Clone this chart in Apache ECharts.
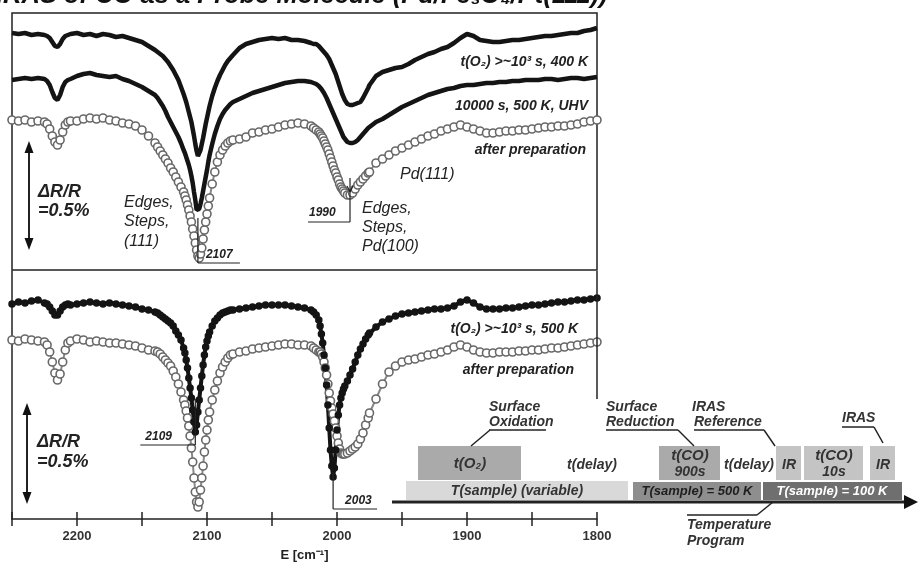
<!DOCTYPE html>
<html>
<head>
<meta charset="utf-8">
<script src="https://cdn.jsdelivr.net/npm/echarts@6/dist/echarts.min.js"></script>
<style>
  html, body { margin: 0; padding: 0; background: #fff; }
  #main { width: 920px; height: 564px; }
</style>
</head>
<body>
<div id="main"></div>
<script>
// wavenumber grid (cm-1), finer around the narrow bands
var wavenumber = [
  2250, 2245, 2240, 2235, 2230, 2225,
  2223, 2221, 2219, 2217, 2215, 2213, 2211, 2209, 2207,
  2205, 2200, 2195, 2190, 2185, 2180, 2175, 2170, 2165, 2160, 2155, 2150, 2145,
  2140, 2138, 2136, 2134, 2132, 2130, 2128, 2126, 2124, 2122, 2120, 2118,
  2117, 2116, 2115, 2114, 2113, 2112, 2111, 2110, 2109, 2108, 2107, 2106, 2105, 2104, 2103, 2102, 2101, 2100, 2099,
  2098, 2096, 2094, 2092, 2090, 2088, 2086, 2084, 2082, 2080,
  2075, 2070, 2065, 2060, 2055, 2050, 2045, 2040, 2035, 2030, 2025,
  2020, 2018, 2016, 2014,
  2013, 2012, 2011, 2010, 2009, 2008, 2007, 2006, 2005, 2004, 2003, 2002, 2001, 2000, 1999, 1998, 1997, 1996, 1995,
  1994, 1992, 1990, 1988, 1986, 1984, 1982, 1980, 1978, 1976,
  1975, 1970, 1965, 1960, 1955, 1950, 1945, 1940, 1935, 1930, 1925, 1920, 1915, 1910, 1905, 1900, 1895, 1890,
  1885, 1880, 1875, 1870, 1865, 1860, 1855, 1850, 1845, 1840, 1835, 1830, 1825, 1820, 1815, 1810, 1805, 1800
];

// upper panel (offset signal, a.u.)
var topO2at400K = [
  237, 236, 237, 235, 236, 235,
  234, 232, 228, 224, 223, 226, 231, 234, 235,
  236, 237, 235, 236, 234, 236, 235, 233, 234, 232, 230, 228, 224,
  220, 218, 216, 214, 211, 208, 204, 200, 195, 190, 183, 176,
  172, 168, 163, 158, 153, 148, 141, 134, 126, 119, 114, 115, 120, 126, 132, 139, 146, 152, 158,
  164, 174, 182, 189, 195, 200, 205, 209, 212, 215,
  222, 226, 228, 230, 231, 232, 231, 232, 230, 230, 229,
  227, 226, 226, 224,
  223, 221, 220, 218, 217, 215, 213, 211, 208, 205, 202, 199, 196, 192, 188, 184, 180, 176, 173,
  170, 166, 165, 165, 166, 167, 168, 172, 177, 182,
  185, 194, 198, 200, 202, 203, 206, 210, 213, 216, 218, 221, 223, 227, 232, 236, 234, 230,
  229, 228, 228, 229, 230, 230, 231, 232, 233, 234, 234, 235, 236, 237, 237, 239, 240, 242
];
var topUHV500K = [
  190, 191, 192, 191, 192, 191,
  189, 185, 178, 172, 170, 175, 183, 188, 190,
  191, 194, 196, 197, 195, 194, 193, 194, 191, 189, 186, 183, 179,
  175, 172, 168, 164, 159, 153, 148, 143, 138, 133, 127, 120,
  117, 113, 109, 105, 100, 94, 87, 78, 70, 60, 58, 61, 66, 72, 79, 86, 93, 100, 108,
  115, 126, 136, 144, 151, 156, 160, 163, 166, 168,
  171, 174, 177, 179, 181, 183, 185, 187, 188, 189, 189,
  188, 187, 186, 184,
  183, 181, 179, 177, 175, 172, 169, 166, 163, 160, 157, 154, 151, 148, 145, 142, 139, 136, 133,
  131, 128, 127, 127, 128, 130, 133, 136, 139, 142,
  143, 148, 151, 155, 159, 163, 166, 169, 172, 175, 177, 179, 181, 182, 184, 185, 185, 186,
  187, 187, 188, 188, 189, 189, 190, 190, 190, 191, 191, 190, 191, 192, 192, 191, 192, 193
];
var topAfterPrep = [
  150, 149, 150, 148, 149, 148,
  146, 141, 134, 128, 125, 130, 138, 145, 148,
  149, 149, 151, 152, 151, 152, 150, 149, 147, 146, 144, 140, 134,
  127, 123, 119, 115, 111, 107, 102, 98, 93, 88, 83, 78,
  74, 70, 65, 60, 54, 48, 41, 34, 27, 20, 14, 12, 16, 22, 31, 40, 48, 56, 64,
  72, 86, 98, 108, 115, 120, 124, 127, 129, 130,
  131, 133, 137, 138, 140, 141, 143, 145, 146, 147, 146,
  144, 142, 140, 138,
  136, 134, 132, 129, 126, 123, 120, 116, 112, 108, 104, 100, 97, 93, 90, 86, 83, 81, 79,
  77, 75, 75, 77, 81, 85, 88, 91, 94, 97,
  98, 107, 111, 115, 119, 122, 125, 128, 131, 134, 136, 139, 141, 143, 145, 143, 141, 139,
  137, 137, 138, 139, 139, 140, 140, 141, 142, 143, 143, 144, 144, 145, 146, 148, 149, 150
];

// lower panel (offset signal, a.u.)
var botO2at500K = [
  215, 217, 216, 218, 219, 216,
  215, 212, 208, 204, 204, 208, 212, 214, 215,
  214, 215, 216, 217, 216, 215, 216, 215, 214, 213, 212, 210, 209,
  207, 206, 204, 202, 200, 198, 196, 193, 188, 184, 179, 171,
  166, 159, 151, 141, 131, 121, 109, 97, 87, 94, 107, 119, 131, 143, 154, 164, 172, 178, 183,
  187, 193, 198, 201, 204, 206, 207, 208, 209, 209,
  210, 211, 212, 213, 214, 214, 214, 214, 213, 212, 211,
  209, 207, 204, 199,
  193, 185, 176, 164, 151, 134, 114, 91, 69, 53, 42, 51, 69, 89, 104, 114, 121, 126, 130,
  133, 138, 144, 150, 157, 164, 170, 175, 180, 184,
  186, 192, 197, 200, 203, 205, 206, 207, 208, 209, 210, 210, 211, 213, 217, 219, 216, 212,
  210, 210, 210, 211, 211, 212, 213, 214, 214, 215, 216, 217, 217, 218, 219, 219, 220, 221
];
var botAfterPrep = [
  179, 178, 180, 179, 178, 177,
  174, 167, 157, 146, 139, 145, 157, 169, 176,
  178, 180, 179, 177, 178, 177, 176, 176, 175, 174, 173, 171, 169,
  168, 167, 165, 162, 159, 156, 153, 148, 142, 135, 127, 119,
  114, 108, 101, 93, 83, 71, 57, 41, 27, 17, 12, 17, 29, 41, 53, 67, 79, 89, 99,
  107, 119, 129, 138, 146, 152, 157, 161, 164, 165,
  167, 168, 170, 171, 172, 173, 174, 175, 175, 174, 174,
  173, 171, 169, 167,
  167, 165, 162, 157, 151, 144, 135, 126, 118, 111, 105, 98, 91, 83, 76, 70, 66, 65, 65,
  65, 66, 68, 70, 72, 75, 80, 86, 94, 101,
  106, 120, 135, 147, 153, 157, 159, 160, 162, 164, 165, 167, 169, 172, 174, 172, 169, 167,
  166, 166, 167, 167, 167, 168, 168, 169, 169, 170, 171, 171, 172, 173, 174, 175, 176, 177
];

var tickLabels = [2200, 2100, 2000, 1900, 1800];

var FONT = '"Liberation Sans", Arial, sans-serif';

function pairs(ys) {
  return wavenumber.map(function (w, i) { return [w, ys[i]]; });
}

var chart = echarts.init(document.getElementById('main'));

var openCircles = {
  symbol: 'circle', symbolSize: 8, showAllSymbol: true,
  itemStyle: { color: '#fff', borderColor: '#686868', borderWidth: 1.6 },
  lineStyle: { color: '#888', width: 2 }
};

option = {
  animation: false,
  backgroundColor: '#fff',
  grid: [
    { left: 12, top: 13, width: 585, height: 257, show: true, borderColor: '#222', borderWidth: 1.5, backgroundColor: 'transparent' },
    { left: 12, top: 271, width: 585, height: 248 }
  ],
  xAxis: [
    { gridIndex: 0, type: 'value', min: 1800, max: 2250, inverse: true, show: false },
    {
      gridIndex: 1, type: 'value', min: 1800, max: 2250, interval: 50, inverse: true, position: 'bottom',
      axisLine: { show: true, onZero: false, lineStyle: { color: '#222', width: 1.5 } },
      axisTick: { show: true, inside: true, length: 7, lineStyle: { color: '#222', width: 1.5 } },
      axisLabel: {
        margin: 11, color: '#333', fontWeight: 'bold', fontSize: 13, fontFamily: FONT,
        showMinLabel: true, showMaxLabel: true,
        formatter: function (v) { return tickLabels.indexOf(v) >= 0 ? String(v) : ''; }
      },
      splitLine: { show: false },
      name: 'E [cm\u207B\u00B9]', nameLocation: 'middle', nameGap: 30,
      nameTextStyle: { color: '#222', fontWeight: 'bold', fontSize: 13, fontFamily: FONT }
    },
    {
      gridIndex: 1, type: 'value', min: 1800, max: 2250, interval: 50, inverse: true, position: 'top',
      axisLine: { show: false },
      axisTick: { show: true, inside: true, length: 7, lineStyle: { color: '#222', width: 1.5 } },
      axisLabel: { show: false },
      splitLine: { show: false }
    }
  ],
  yAxis: [
    { gridIndex: 0, type: 'value', min: 0, max: 257, show: false },
    {
      gridIndex: 1, type: 'value', min: 0, max: 248,
      axisLine: { show: true, onZero: false, lineStyle: { color: '#222', width: 1.5 } },
      axisTick: { show: false }, axisLabel: { show: false }, splitLine: { show: false }
    }
  ],
  series: [
    Object.assign({ name: 'after preparation (top)', type: 'line', xAxisIndex: 0, yAxisIndex: 0,
      data: pairs(topAfterPrep), emphasis: { disabled: true } }, openCircles),
    { name: '10000 s, 500 K, UHV', type: 'line', xAxisIndex: 0, yAxisIndex: 0, data: pairs(topUHV500K),
      symbol: 'none', lineStyle: { color: '#141414', width: 4.5 }, emphasis: { disabled: true } },
    { name: 't(O2) 400 K', type: 'line', xAxisIndex: 0, yAxisIndex: 0, data: pairs(topO2at400K),
      symbol: 'none', lineStyle: { color: '#141414', width: 4.5 }, emphasis: { disabled: true } },
    Object.assign({ name: 'after preparation (bottom)', type: 'line', xAxisIndex: 1, yAxisIndex: 1,
      data: pairs(botAfterPrep), emphasis: { disabled: true } }, openCircles),
    { name: 't(O2) 500 K', type: 'line', xAxisIndex: 1, yAxisIndex: 1, data: pairs(botO2at500K),
      symbol: 'circle', symbolSize: 7.5, showAllSymbol: true,
      itemStyle: { color: '#141414' }, lineStyle: { color: '#141414', width: 4 }, emphasis: { disabled: true } }
  ]
};
chart.setOption(option);

// ---- annotations ----
function label(x, y, s, size, o) {
  o = o || {};
  var f = (o.italic === false ? '' : 'italic ') + (o.bold === false ? '' : 'bold ') + size + 'px ' + FONT;
  var a = o.align || 'left';
  return { type: 'text', x: x, y: y, z: 100, silent: true,
    style: { text: s, font: f, fill: o.color || '#222', align: a, textAlign: a, verticalAlign: 'middle', textVerticalAlign: 'middle' } };
}
function seg(x1, y1, x2, y2, w) {
  return { type: 'line', z: 100, silent: true, shape: { x1: x1, y1: y1, x2: x2, y2: y2 }, style: { stroke: '#222', lineWidth: w || 1.2 } };
}
function box(x, y, w, h, fill) {
  return { type: 'rect', z: 90, silent: true, shape: { x: x, y: y, width: w, height: h }, style: { fill: fill } };
}
function tri(pts) {
  return { type: 'polygon', z: 100, silent: true, shape: { points: pts }, style: { fill: '#111' } };
}
function xpix(panel, w) {
  return chart.convertToPixel({ xAxisIndex: panel, yAxisIndex: panel }, [w, 0])[0];
}

var g = [];
g.push(label(-4, -4.5, 'IRAS of CO as a Probe Molecule (Pd/Fe\u2083O\u2084/Pt(111))', 25.5, { color: '#111' }));

// upper panel labels
g.push(label(588, 62, 't(O\u2082) >~10\u00B3 s, 400 K', 14, { align: 'right' }));
g.push(label(588, 106, '10000 s, 500 K, UHV', 14, { align: 'right' }));
g.push(label(586, 150, 'after preparation', 14, { align: 'right' }));
g.push(label(400, 175, 'Pd(111)', 16, { bold: false }));
g.push(label(362, 209, 'Edges,', 16, { bold: false }));
g.push(label(362, 228, 'Steps,', 16, { bold: false }));
g.push(label(362, 247, 'Pd(100)', 16, { bold: false }));
g.push(label(124, 203, 'Edges,', 16, { bold: false }));
g.push(label(124, 222, 'Steps,', 16, { bold: false }));
g.push(label(124, 242, '(111)', 16, { bold: false }));
g.push(label(38, 192, '\u0394R/R', 18));
g.push(label(38, 211, '=0.5%', 18));
g.push(seg(29, 150, 29, 241, 2), tri([[29, 141], [24.5, 153], [33.5, 153]]), tri([[29, 250], [24.5, 238], [33.5, 238]]));

// lower panel labels
g.push(label(578, 329, 't(O\u2082) >~10\u00B3 s, 500 K', 14, { align: 'right' }));
g.push(label(574, 370, 'after preparation', 14, { align: 'right' }));
g.push(label(37, 442, '\u0394R/R', 18));
g.push(label(37, 462, '=0.5%', 18));
g.push(seg(27, 412, 27, 495, 2), tri([[27, 403], [22.5, 415], [31.5, 415]]), tri([[27, 504], [22.5, 492], [31.5, 492]]));

// peak markers
var x2107 = xpix(0, 2107);
g.push(seg(x2107, 218, x2107, 263), seg(x2107, 263, x2107 + 42, 263), label(x2107 + 8, 255, '2107', 12));
var x1990 = xpix(0, 1990);
g.push(seg(x1990, 178, x1990, 222), seg(x1990 - 42, 222, x1990, 222), label(x1990 - 41, 213, '1990', 12));
g.push(seg(x1990 - 3, 186, x1990, 192), seg(x1990 + 3, 186, x1990, 192));
var x2109 = xpix(1, 2109);
g.push(seg(x2109, 399, x2109, 445), seg(x2109 - 55, 445, x2109, 445), label(x2109 - 50, 437, '2109', 12));
var x2003 = xpix(1, 2003);
g.push(seg(x2003, 472, x2003, 509), seg(x2003, 509, x2003 + 44, 509), label(x2003 + 12, 501, '2003', 12));

// right frame of the lower panel (interrupted by the scheme)
g.push(seg(597, 271, 597, 399, 1.5));

// experiment scheme
g.push(box(406, 481, 222, 19, '#d9d9d9'), label(517, 491, 'T(sample) (variable)', 14, { align: 'center', color: '#333' }));
g.push(box(633, 482, 128, 18, '#8e8e8e'), label(697, 491, 'T(sample) = 500 K', 13, { align: 'center', color: '#1e1e1e' }));
g.push(box(763, 482, 139, 18, '#6f6f6f'), label(832, 491, 'T(sample) = 100 K', 13, { align: 'center', color: '#fff' }));
g.push(box(418, 446, 103, 34, '#aaaaaa'), label(470, 464, 't(O\u2082)', 15, { align: 'center', color: '#333' }));
g.push(label(592, 465, 't(delay)', 14, { align: 'center', color: '#333' }));
g.push(box(659, 446, 61, 34, '#aaaaaa'), label(690, 456, 't(CO)', 15, { align: 'center', color: '#333' }), label(690, 472, '900s', 14, { align: 'center', color: '#333' }));
g.push(label(749, 465, 't(delay)', 14, { align: 'center', color: '#333' }));
g.push(box(776, 446, 25, 34, '#c4c4c4'), label(789, 465, 'IR', 14, { align: 'center', color: '#333' }));
g.push(box(804, 446, 59, 34, '#c4c4c4'), label(834, 456, 't(CO)', 15, { align: 'center', color: '#333' }), label(834, 472, '10s', 14, { align: 'center', color: '#333' }));
g.push(box(870, 446, 25, 34, '#c4c4c4'), label(883, 465, 'IR', 14, { align: 'center', color: '#333' }));
g.push(seg(392, 502, 906, 502, 3), tri([[904, 495], [918, 502], [904, 509]]));

g.push(label(489, 407, 'Surface', 14, { color: '#333' }), label(489, 422, 'Oxidation', 14, { color: '#333' }),
  seg(489, 430, 546, 430, 1.5), seg(490, 430, 471, 446, 1.5));
g.push(label(606, 407, 'Surface', 14, { color: '#333' }), label(606, 422, 'Reduction', 14, { color: '#333' }),
  seg(606, 430, 678, 430, 1.5), seg(678, 430, 694, 446, 1.5));
g.push(label(692, 407, 'IRAS', 14, { color: '#333' }), label(694, 422, 'Reference', 14, { color: '#333' }),
  seg(694, 430, 764, 430, 1.5), seg(764, 430, 775, 446, 1.5));
g.push(label(842, 418, 'IRAS', 14, { color: '#333' }), seg(842, 427, 874, 427, 1.5), seg(874, 427, 883, 443, 1.5));
g.push(label(687, 525, 'Temperature', 14, { color: '#333' }), label(687, 541, 'Program', 14, { color: '#333' }),
  seg(687, 515, 757, 515, 1.5), seg(757, 515, 773, 502, 1.5));

chart.setOption({ graphic: { elements: g } });
</script>
</body>
</html>
